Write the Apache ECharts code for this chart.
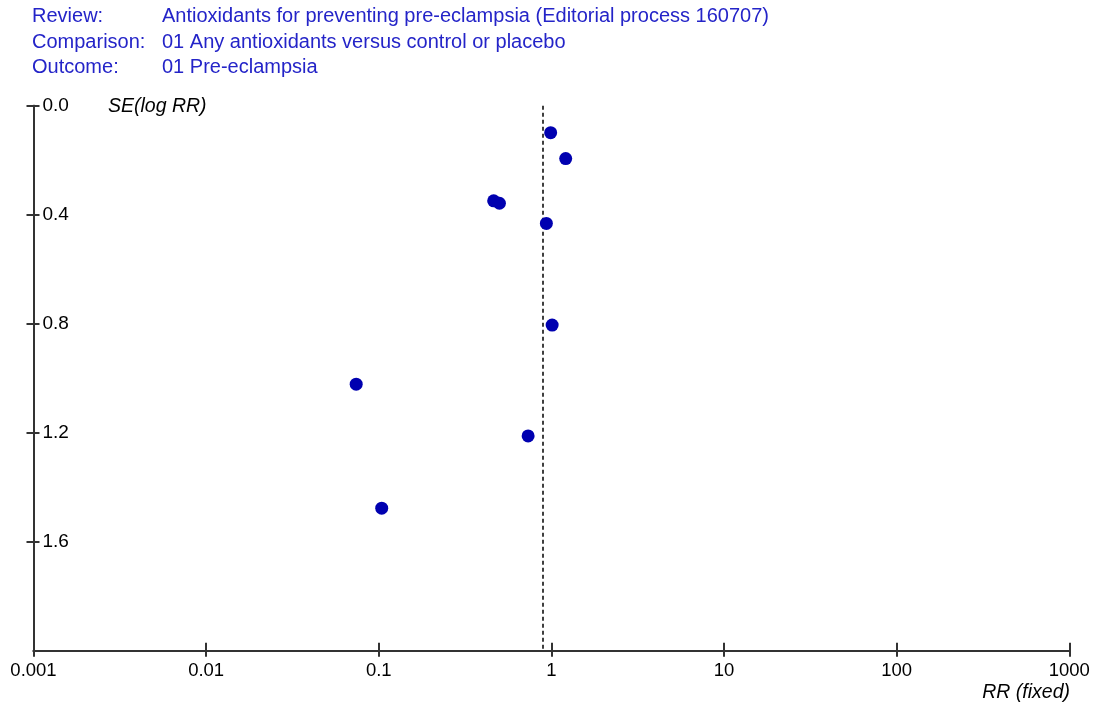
<!DOCTYPE html>
<html>
<head>
<meta charset="utf-8">
<script src="https://cdn.jsdelivr.net/npm/echarts@6/dist/echarts.min.js"></script>
<style>
html,body{margin:0;padding:0;background:#fff;}
#c{width:1095px;height:704px;}
</style>
</head>
<body>
<div id="c"></div>
<script>
// Header text
const headerLabels = ["Review:", "Comparison:", "Outcome:"];
const headerValues = ["Antioxidants for preventing pre-eclampsia (Editorial process 160707)",
                      "01 Any antioxidants versus control or placebo",
                      "01 Pre-eclampsia"];
// Study risk ratios (x) and standard errors of log RR (y)
const studyRR = [0.99, 1.21, 0.463, 0.50, 0.935, 1.01, 0.074, 0.733, 0.104];
const studySE = [0.099, 0.194, 0.349, 0.358, 0.432, 0.805, 1.022, 1.212, 1.477];
// Pooled fixed-effect RR (dashed line)
const pooledRR = 0.887;
// Axis ticks
const xTicks = [0.001, 0.01, 0.1, 1, 10, 100, 1000];
const xTickLabels = ["0.001", "0.01", "0.1", "1", "10", "100", "1000"];
const yMin = 0, yMax = 2.0, yInterval = 0.4;
const yTickLabels = ["0.0", "0.4", "0.8", "1.2", "1.6"];

const chart = echarts.init(document.getElementById('c'), null, {renderer: 'canvas'});
const fontFam = 'Liberation Sans, Arial, sans-serif';
const headerColor = '#2424c8';
const axisColor = '#333333';

const graphics = [];
const headerY = [16.5, 42, 67.5];
headerLabels.forEach((t, i) => {
  graphics.push({type: 'text', x: 32, y: headerY[i],
    style: {text: t, fill: headerColor, font: '20px ' + fontFam, verticalAlign: 'middle', align: 'left'}});
  graphics.push({type: 'text', x: 162, y: headerY[i],
    style: {text: headerValues[i], fill: headerColor, font: '20px ' + fontFam, verticalAlign: 'middle', align: 'left'}});
});
graphics.push({type: 'text', x: 108, y: 107,
  style: {text: 'SE(log RR)', fill: '#000', font: 'italic 19.5px ' + fontFam, verticalAlign: 'middle', align: 'left'}});
graphics.push({type: 'text', x: 1070, y: 693,
  style: {text: 'RR (fixed)', fill: '#000', font: 'italic 19.5px ' + fontFam, verticalAlign: 'middle', align: 'right'}});

function yLabel(v) {
  const idx = Math.round((v - yMin) / yInterval);
  return idx < yTickLabels.length ? yTickLabels[idx] : '';
}
function xLabel(v) {
  for (let i = 0; i < xTicks.length; i++) {
    if (Math.abs(Math.log10(v) - Math.log10(xTicks[i])) < 1e-6) return xTickLabels[i];
  }
  return '';
}

const baseY = {
  type: 'value', min: yMin, max: yMax, interval: yInterval, inverse: true,
  splitLine: {show: false},
  axisLine: {show: true, lineStyle: {color: axisColor, width: 2}}
};
const baseX = {
  type: 'log', logBase: 10, min: xTicks[0], max: xTicks[xTicks.length - 1],
  splitLine: {show: false}, minorTick: {show: false},
  axisLine: {show: true, onZero: false, lineStyle: {color: axisColor, width: 2}}
};

chart.setOption({
  animation: false,
  backgroundColor: '#ffffff',
  grid: {left: 33.5, right: 25.7, top: 105.7, bottom: 53.3, containLabel: false},
  graphic: graphics,
  xAxis: [
    Object.assign({}, baseX, {
      position: 'bottom',
      axisTick: {show: true, inside: false, length: 6, lineStyle: {color: axisColor, width: 2}},
      axisLabel: {show: true, color: '#000', fontSize: 18.5, fontFamily: fontFam, margin: 11,
        formatter: xLabel, showMinLabel: true, showMaxLabel: true}
    }),
    Object.assign({}, baseX, {
      position: 'bottom', gridIndex: 0,
      axisTick: {show: true, inside: true, length: 8, lineStyle: {color: axisColor, width: 2}},
      axisLabel: {show: false}
    })
  ],
  yAxis: [
    Object.assign({}, baseY, {
      position: 'left',
      axisTick: {show: true, inside: false, length: 7, lineStyle: {color: axisColor, width: 2}},
      axisLabel: {show: true, inside: true, color: '#000', fontSize: 19, fontFamily: fontFam,
        margin: 9, formatter: yLabel, showMinLabel: true, showMaxLabel: false}
    }),
    Object.assign({}, baseY, {
      position: 'left', gridIndex: 0,
      axisTick: {show: true, inside: true, length: 6, lineStyle: {color: axisColor, width: 2}},
      axisLabel: {show: false}
    })
  ],
  series: [
    {
      type: 'scatter', xAxisIndex: 0, yAxisIndex: 0,
      symbol: 'circle', symbolSize: 13,
      itemStyle: {color: '#0000b0', opacity: 1},
      data: studyRR.map((r, i) => [r, studySE[i]]),
      z: 5,
      markLine: {
        silent: true, symbol: ['none', 'none'], label: {show: false},
        lineStyle: {color: '#000', type: [4, 3], width: 1.5},
        data: [[{coord: [pooledRR, yMin]}, {coord: [pooledRR, yMax]}]]
      }
    }
  ]
});
</script>
</body>
</html>
